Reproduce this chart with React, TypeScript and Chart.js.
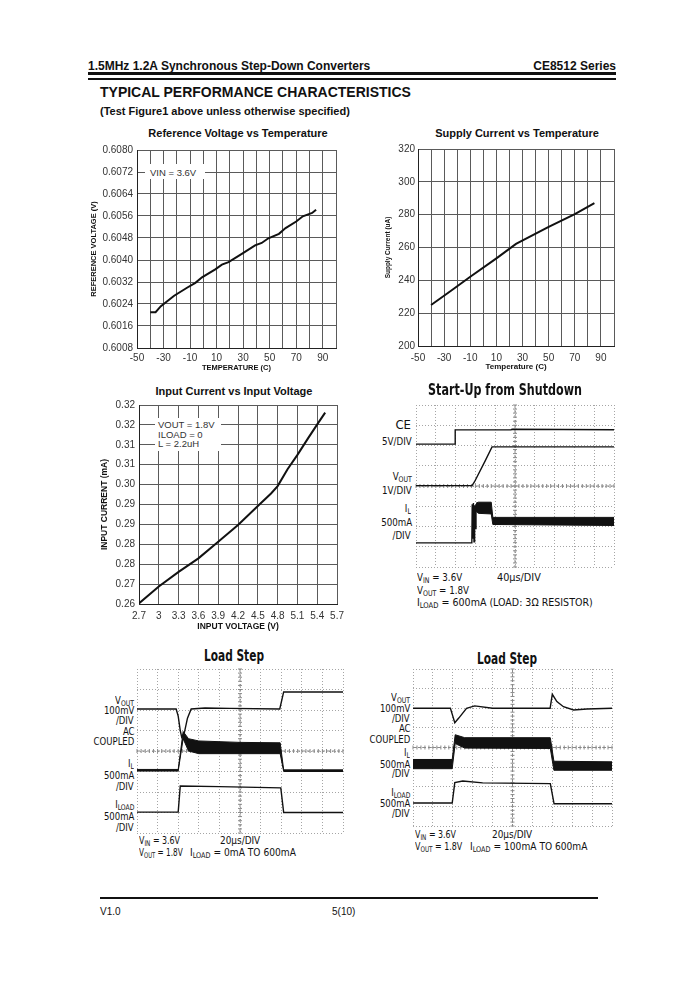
import React, { useEffect, useRef } from "react";
import { Chart, registerables } from "chart.js";
Chart.register(...registerables);

const FONT = '"Liberation Sans", Arial, Helvetica, sans-serif';
const NARROW = '"Liberation Sans Narrow", "Arial Narrow", "DejaVu Sans Condensed", sans-serif';
const INK = "#111";

// ---------- Reference Voltage vs Temperature ----------
const refTemp = [-40, -36, -32, -22, -12, -6, -1, 9, 14, 19, 29, 39, 44, 49, 57, 62, 70, 75, 82, 85];
const refVolt = [0.6021, 0.6021, 0.60232, 0.6027, 0.603, 0.60317, 0.60337, 0.60366, 0.60383, 0.60392, 0.60422, 0.60453, 0.60462, 0.60479, 0.60495, 0.60516, 0.6054, 0.60559, 0.60571, 0.60583];
const refYTicks = [0.6008, 0.6016, 0.6024, 0.6032, 0.604, 0.6048, 0.6056, 0.6064, 0.6072, 0.608];
const tempGridTicks = [-50, -40, -30, -20, -10, 0, 10, 20, 30, 40, 50, 60, 70, 80, 90, 100];
const tempLabels = [-50, -30, -10, 10, 30, 50, 70, 90];

// ---------- Supply Current vs Temperature ----------
const supplyTemp = [-40, -25, -10, 10, 25, 50, 70, 85];
const supplyCurrent = [225, 233.5, 242.2, 253.4, 262.2, 272.5, 280.3, 287];
const supplyYTicks = [200, 220, 240, 260, 280, 300, 320];

// ---------- Input Current vs Input Voltage ----------
const inVoltage = [2.7, 3.0, 3.3, 3.6, 3.9, 4.2, 4.5, 4.7, 4.8, 4.95, 5.1, 5.26, 5.41, 5.52];
const inCurrent = [0.2602, 0.2657, 0.2705, 0.2749, 0.2803, 0.2858, 0.292, 0.2961, 0.2985, 0.304, 0.3087, 0.3141, 0.319, 0.3225];
const inXTicks = [2.7, 3.0, 3.3, 3.6, 3.9, 4.2, 4.5, 4.8, 5.1, 5.4, 5.7];
const inXLabels = ["2.7", "3", "3.3", "3.6", "3.9", "4.2", "4.5", "4.8", "5.1", "5.4", "5.7"];
const inYTicks = [0.26, 0.2665, 0.273, 0.2795, 0.286, 0.2925, 0.299, 0.3055, 0.312, 0.3185, 0.325];
const inYLabels = ["0.26", "0.27", "0.28", "0.28", "0.29", "0.29", "0.30", "0.31", "0.31", "0.32", "0.32"];

// ---------- Scope traces (units: divisions) ----------
type P = [number, number];
type B = [number, number, number];
const scopeX = [0, 1, 2, 3, 4, 5, 6, 7, 8, 9, 10];
const scopeY = [0, 1, 2, 3, 4, 5, 6, 7, 8];

const suCE: P[] = [[0, 6.07], [1.97, 6.07], [1.98, 6.77], [4.8, 6.77], [4.85, 6.8], [10, 6.78]];
const suVout: P[] = [[0, 4.02], [2.83, 4.02], [2.95, 4.2], [3.5, 5.25], [3.84, 5.93], [10, 5.93]];
const suILspikes: P[] = [[0, 1.19], [2.82, 1.19], [2.84, 3.1], [2.87, 1.4], [2.9, 3.16], [2.93, 1.25], [2.96, 3.05], [2.99, 1.9], [3.03, 3.1]];
const suILband: B[] = [[3.03, 2.75, 3.15], [3.15, 2.65, 3.2], [3.8, 2.62, 3.2], [3.88, 2.1, 2.45], [10, 2.05, 2.45]];

const l1Vout: P[] = [[0, 6.05], [1.9, 6.05], [2.0, 5.7], [2.1, 5.0], [2.17, 4.68], [2.3, 4.9], [2.45, 5.6], [2.63, 6.05], [3.3, 6.1], [4.5, 6.08], [6.93, 6.05], [7.12, 6.88], [10, 6.88]];
const l1IL: B[] = [[0, 3.02, 3.1], [2.0, 3.02, 3.1], [2.24, 4.6, 4.95], [2.5, 4.0, 4.6], [3.0, 3.87, 4.49], [5.0, 3.87, 4.42], [6.95, 3.87, 4.4], [7.12, 3.0, 3.08], [10, 3.0, 3.08]];
const l1ILoad: P[] = [[0, 1.02], [2.0, 1.02], [2.1, 2.29], [4, 2.26], [6.98, 2.2], [7.12, 1.0], [10, 1.0]];

const l2Vout: P[] = [[0, 6.0], [1.88, 6.0], [2.0, 5.6], [2.1, 5.26], [2.3, 5.5], [2.69, 6.0], [3.1, 6.12], [4.0, 6.0], [6.89, 6.0], [7.0, 6.71], [7.23, 6.34], [7.56, 6.08], [8.07, 5.91], [8.74, 5.96], [10, 6.0]];
const l2IL: B[] = [[0, 2.92, 3.39], [1.97, 2.92, 3.39], [2.12, 4.2, 4.65], [2.6, 3.97, 4.5], [6.9, 3.95, 4.5], [7.08, 2.84, 3.3], [10, 2.84, 3.27]];
const l2ILoad: P[] = [[0, 1.17], [1.97, 1.17], [2.1, 2.21], [2.5, 2.29], [3.5, 2.2], [6.9, 2.16], [7.09, 1.13], [10, 1.13]];

// ---------- helpers ----------
function plotConfig(o: any) {
  return {
    type: "line",
    data: {
      datasets: [
        {
          data: o.xs.map((x: number, i: number) => ({ x, y: o.ys[i] })),
          borderColor: INK,
          borderWidth: 2,
          pointRadius: 0,
          tension: 0,
          fill: false,
        },
      ],
    },
    options: {
      animation: false,
      responsive: false,
      events: [],
      plugins: { legend: { display: false }, tooltip: { enabled: false } },
      layout: { padding: o.pad },
      scales: {
        x: {
          type: "linear",
          min: o.xTicks[0],
          max: o.xTicks[o.xTicks.length - 1],
          afterBuildTicks: (s: any) => {
            s.ticks = o.xTicks.map((v: number) => ({ value: v }));
          },
          ticks: {
            autoSkip: false,
            maxRotation: 0,
            callback: (v: number, i: number) => o.xLabel(v, i),
            font: { family: FONT, size: 10 },
            color: "#333",
            padding: o.xTickPad,
          },
          grid: { color: "#5a5a5a", lineWidth: 1, drawTicks: false },
          border: { display: true, color: "#222", width: 1 },
          title: { display: true, text: o.xTitle, font: { family: FONT, size: o.xTitleSize, weight: "bold" }, color: INK, padding: 0 },
          afterFit: (s: any) => {
            s.height = o.xHeight;
          },
        },
        y: {
          type: "linear",
          min: o.yTicks[0],
          max: o.yTicks[o.yTicks.length - 1],
          afterBuildTicks: (s: any) => {
            s.ticks = o.yTicks.map((v: number) => ({ value: v }));
          },
          ticks: {
            autoSkip: false,
            callback: (v: number, i: number) => o.yLabel(v, i),
            font: { family: FONT, size: 10 },
            color: "#333",
            padding: o.yTickPad,
          },
          grid: { color: "#5a5a5a", lineWidth: 1, drawTicks: false },
          border: { display: true, color: "#222", width: 1 },
          title: { display: true, text: o.yTitle, font: { family: FONT, size: o.yTitleSize, weight: "bold" }, color: INK, padding: 0 },
          afterFit: (s: any) => {
            s.width = o.yWidth;
          },
        },
      },
    },
  };
}

const scopeCenter = {
  id: "scopeCenter",
  beforeDatasetsDraw(chart: any) {
    const { ctx, scales } = chart;
    const x = scales.x;
    const y = scales.y;
    const cx = x.getPixelForValue(5);
    const cy = y.getPixelForValue(4);
    ctx.save();
    ctx.strokeStyle = "#8a8a8a";
    ctx.lineWidth = 1;
    ctx.setLineDash([3, 2]);
    ctx.beginPath();
    ctx.moveTo(x.left, cy);
    ctx.lineTo(x.right, cy);
    ctx.moveTo(cx, y.top);
    ctx.lineTo(cx, y.bottom);
    ctx.stroke();
    ctx.setLineDash([]);
    ctx.beginPath();
    for (let k = 0; k <= 50; k++) {
      const px = x.getPixelForValue(k / 5);
      ctx.moveTo(px, cy - 2);
      ctx.lineTo(px, cy + 2);
    }
    for (let k = 0; k <= 40; k++) {
      const py = y.getPixelForValue(k / 5);
      ctx.moveTo(cx - 2, py);
      ctx.lineTo(cx + 2, py);
    }
    ctx.stroke();
    ctx.restore();
  },
};

function scopeConfig(lines: P[][], bands: B[][]) {
  const datasets: any[] = [];
  lines.forEach((l) =>
    datasets.push({ data: l.map(([x, y]) => ({ x, y })), borderColor: INK, borderWidth: 1.4, pointRadius: 0, tension: 0, fill: false })
  );
  bands.forEach((b) => {
    datasets.push({ data: b.map(([x, lo]) => ({ x, y: lo })), borderColor: INK, borderWidth: 1, pointRadius: 0, tension: 0, fill: false });
    datasets.push({ data: b.map(([x, , hi]) => ({ x, y: hi })), borderColor: INK, borderWidth: 1, pointRadius: 0, tension: 0, fill: "-1", backgroundColor: INK });
  });
  const axis = (ticks: number[], isX: boolean) => ({
    type: "linear",
    min: ticks[0],
    max: ticks[ticks.length - 1],
    afterBuildTicks: (s: any) => {
      s.ticks = ticks.map((v) => ({ value: v }));
    },
    ticks: { display: false },
    grid: { color: "#a5a5a5", lineWidth: 1, drawTicks: false },
    border: { display: false, dash: [1, 2] },
    afterFit: (s: any) => {
      if (isX) s.height = 0;
      else s.width = 0;
    },
  });
  return {
    type: "line",
    data: { datasets },
    plugins: [scopeCenter],
    options: {
      animation: false,
      responsive: false,
      events: [],
      plugins: { legend: { display: false }, tooltip: { enabled: false } },
      layout: { padding: 1 },
      scales: { x: axis(scopeX, true), y: axis(scopeY, false) },
    },
  };
}

function ChartBox({ left, top, width, height, make }: any) {
  const ref = useRef<HTMLCanvasElement>(null);
  useEffect(() => {
    const chart = new Chart(ref.current as HTMLCanvasElement, make());
    return () => chart.destroy();
  }, []);
  return <canvas ref={ref} width={width} height={height} style={{ position: "absolute", left, top, width, height }} />;
}

function T({ x, y, size = 11, family = NARROW, bold = false, align = "left", color = INK, sx = 1, children }: any) {
  const lh = Math.round(size * 1.2);
  const style: any = {
    position: "absolute",
    top: y - lh / 2,
    fontSize: size,
    lineHeight: `${lh}px`,
    fontFamily: family,
    fontWeight: bold ? "bold" : "normal",
    whiteSpace: "nowrap",
    color,
  };
  if (align === "left") {
    style.left = x;
    style.transformOrigin = "left center";
  } else if (align === "right") {
    style.right = 700 - x;
    style.transformOrigin = "right center";
  } else {
    style.left = x - 200;
    style.width = 400;
    style.textAlign = "center";
    style.transformOrigin = "center center";
  }
  if (sx !== 1) style.transform = `scaleX(${sx})`;
  return <div style={style}>{children}</div>;
}

const Sub = ({ children }: any) => <span style={{ fontSize: "0.72em", position: "relative", top: "0.28em" }}>{children}</span>;

const Rule = ({ x, y, w, h }: any) => <div style={{ position: "absolute", left: x, top: y, width: w, height: h, background: INK }} />;

// Scope label text styles
const SU = { size: 11, sx: 0.88 };
const LS = { size: 11, sx: 0.86 };

export default function App() {
  return (
    <div style={{ position: "absolute", left: 0, top: 0, width: 700, height: 984, background: "#fff", overflow: "hidden" }}>
      {/* Header */}
      <T x={88} y={66} size={12} family={FONT} bold>1.5MHz 1.2A Synchronous Step-Down Converters</T>
      <T x={616} y={66} size={12} family={FONT} bold align="right">CE8512 Series</T>
      <Rule x={88} y={72} w={528} h={2.5} />
      <Rule x={88} y={78} w={528} h={2} />
      <T x={100} y={92} size={14} family={FONT} bold>TYPICAL PERFORMANCE CHARACTERISTICS</T>
      <T x={100} y={111} size={11} family={FONT} bold>(Test Figure1 above unless otherwise specified)</T>

      {/* Chart 1 */}
      <T x={238} y={133} size={11} family={FONT} bold align="center">Reference Voltage vs Temperature</T>
      <ChartBox
        left={89}
        top={140}
        width={257}
        height={232}
        make={() =>
          plotConfig({
            xs: refTemp,
            ys: refVolt,
            xTicks: tempGridTicks,
            xLabel: (v: number) => (tempLabels.includes(v) ? String(v) : ""),
            yTicks: refYTicks,
            yLabel: (v: number) => v.toFixed(4),
            xTitle: "TEMPERATURE (C)",
            yTitle: "REFERENCE VOLTAGE (V)",
            xTitleSize: 7.5,
            yTitleSize: 7.5,
            yWidth: 48,
            xHeight: 24,
            xTickPad: 4,
            yTickPad: 4,
            pad: { top: 9, right: 10, left: 0, bottom: 0 },
          })
        }
      />
      <div style={{ position: "absolute", left: 145, top: 164, width: 60, height: 15, background: "#fff" }} />
      <T x={150} y={172} size={9.5} family={FONT} color="#333">VIN = 3.6V</T>

      {/* Chart 2 */}
      <T x={517} y={133} size={11} family={FONT} bold align="center">Supply Current vs Temperature</T>
      <ChartBox
        left={384}
        top={140}
        width={240}
        height={232}
        make={() =>
          plotConfig({
            xs: supplyTemp,
            ys: supplyCurrent,
            xTicks: tempGridTicks,
            xLabel: (v: number) => (tempLabels.includes(v) ? String(v) : ""),
            yTicks: supplyYTicks,
            yLabel: (v: number) => String(v),
            xTitle: "Temperature (C)",
            yTitle: "Supply Current (uA)",
            xTitleSize: 8,
            yTitleSize: 6.5,
            yWidth: 34,
            xHeight: 26,
            xTickPad: 6,
            yTickPad: 3,
            pad: { top: 9, right: 10, left: 0, bottom: 0 },
          })
        }
      />

      {/* Chart 3 */}
      <T x={234} y={391} size={11} family={FONT} bold align="center">Input Current vs Input Voltage</T>
      <ChartBox
        left={100}
        top={395}
        width={250}
        height={237}
        make={() =>
          plotConfig({
            xs: inVoltage,
            ys: inCurrent,
            xTicks: inXTicks,
            xLabel: (_v: number, i: number) => inXLabels[i],
            yTicks: inYTicks,
            yLabel: (_v: number, i: number) => inYLabels[i],
            xTitle: "INPUT VOLTAGE (V)",
            yTitle: "INPUT CURRENT (mA)",
            xTitleSize: 8.5,
            yTitleSize: 8.5,
            yWidth: 39,
            xHeight: 28,
            xTickPad: 6,
            yTickPad: 4,
            pad: { top: 10, right: 12, left: 0, bottom: 0 },
          })
        }
      />
      <div style={{ position: "absolute", left: 155, top: 418, width: 66, height: 33, background: "#fff" }} />
      <T x={158} y={424} size={9.5} family={FONT} color="#333">VOUT = 1.8V</T>
      <T x={158} y={434} size={9.5} family={FONT} color="#333">ILOAD = 0</T>
      <T x={158} y={443} size={9.5} family={FONT} color="#333">L = 2.2uH</T>

      {/* Start-Up from Shutdown */}
      <T x={505} y={390} size={15.5} bold align="center" sx={0.8}>Start-Up from Shutdown</T>
      <ChartBox left={415} top={404} width={200} height={164} make={() => scopeConfig([suCE, suVout, suILspikes], [suILband])} />
      <T x={411} y={425} size={13} align="right">CE</T>
      <T x={412} y={441} align="right" {...SU}>5V/DIV</T>
      <T x={412} y={476} align="right" {...SU}>V<Sub>OUT</Sub></T>
      <T x={412} y={490} align="right" {...SU}>1V/DIV</T>
      <T x={411} y={508} align="right" {...SU}>I<Sub>L</Sub></T>
      <T x={412} y={522} align="right" {...SU}>500mA</T>
      <T x={411} y={535} align="right" {...SU}>/DIV</T>
      <T x={417} y={577} {...SU}>V<Sub>IN</Sub> = 3.6V</T>
      <T x={497} y={577} size={11} sx={0.98}>40µs/DIV</T>
      <T x={417} y={590} {...SU}>V<Sub>OUT</Sub> = 1.8V</T>
      <T x={417} y={602} size={11} sx={0.96}>I<Sub>LOAD</Sub> = 600mA (LOAD: 3Ω RESISTOR)</T>

      {/* Load Step left */}
      <T x={234} y={656} size={15.5} bold align="center" sx={0.76}>Load Step</T>
      <ChartBox left={136} top={668} width={208} height={166} make={() => scopeConfig([l1Vout, l1ILoad], [l1IL])} />
      <T x={134} y={700} align="right" {...LS}>V<Sub>OUT</Sub></T>
      <T x={134} y={710} align="right" {...LS}>100mV</T>
      <T x={134} y={720} align="right" {...LS}>/DIV</T>
      <T x={134} y={731} align="right" {...LS}>AC</T>
      <T x={134} y={741} align="right" {...LS}>COUPLED</T>
      <T x={134} y={763} align="right" {...LS}>I<Sub>L</Sub></T>
      <T x={134} y={775} align="right" {...LS}>500mA</T>
      <T x={134} y={786} align="right" {...LS}>/DIV</T>
      <T x={134} y={804} align="right" {...LS}>I<Sub>LOAD</Sub></T>
      <T x={134} y={816} align="right" {...LS}>500mA</T>
      <T x={134} y={827} align="right" {...LS}>/DIV</T>
      <T x={139} y={840} size={11} sx={0.8}>V<Sub>IN</Sub> = 3.6V</T>
      <T x={220} y={840} size={11} sx={0.9}>20µs/DIV</T>
      <T x={139} y={852} size={11} sx={0.74}>V<Sub>OUT</Sub> = 1.8V</T>
      <T x={190} y={852} size={11} sx={0.92}>I<Sub>LOAD</Sub> = 0mA TO 600mA</T>

      {/* Load Step right */}
      <T x={507} y={659} size={15.5} bold align="center" sx={0.76}>Load Step</T>
      <ChartBox left={412} top={668} width={201} height={159} make={() => scopeConfig([l2Vout, l2ILoad], [l2IL])} />
      <T x={410} y={697} align="right" {...LS}>V<Sub>OUT</Sub></T>
      <T x={410} y={708} align="right" {...LS}>100mV</T>
      <T x={410} y={718} align="right" {...LS}>/DIV</T>
      <T x={410} y={728} align="right" {...LS}>AC</T>
      <T x={410} y={739} align="right" {...LS}>COUPLED</T>
      <T x={410} y={752} align="right" {...LS}>I<Sub>L</Sub></T>
      <T x={410} y={764} align="right" {...LS}>500mA</T>
      <T x={410} y={773} align="right" {...LS}>/DIV</T>
      <T x={410} y={792} align="right" {...LS}>I<Sub>LOAD</Sub></T>
      <T x={410} y={803} align="right" {...LS}>500mA</T>
      <T x={410} y={813} align="right" {...LS}>/DIV</T>
      <T x={415} y={834} size={11} sx={0.8}>V<Sub>IN</Sub> = 3.6V</T>
      <T x={492} y={834} size={11} sx={0.9}>20µs/DIV</T>
      <T x={415} y={846} size={11} sx={0.8}>V<Sub>OUT</Sub> = 1.8V</T>
      <T x={470} y={846} size={11} sx={0.92}>I<Sub>LOAD</Sub> = 100mA TO 600mA</T>

      {/* Footer */}
      <Rule x={100} y={897} w={498} h={1.5} />
      <T x={100} y={912} size={10} family={FONT}>V1.0</T>
      <T x={332} y={912} size={10} family={FONT}>5(10)</T>
    </div>
  );
}
